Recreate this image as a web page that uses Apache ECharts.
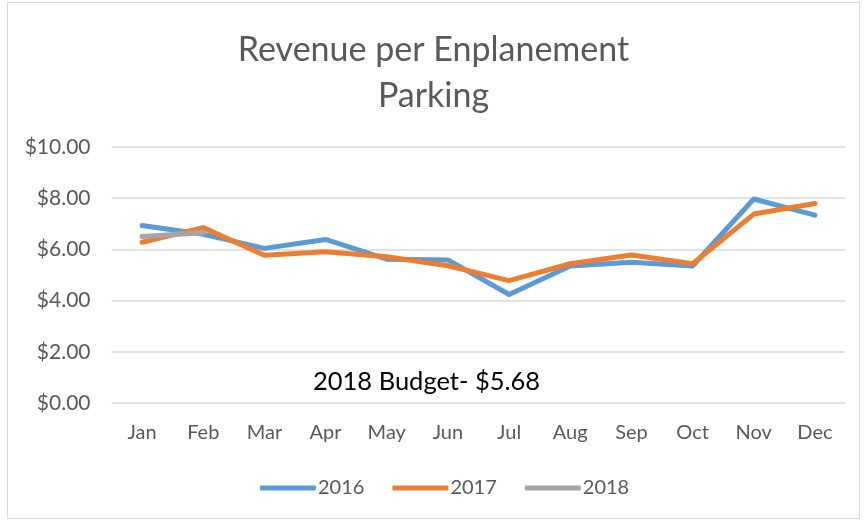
<!DOCTYPE html>
<html>
<head>
<meta charset="utf-8">
<script src="https://cdn.jsdelivr.net/npm/echarts@6/dist/echarts.min.js"></script>
<style>
  html, body { margin: 0; padding: 0; background: #fff; }
  #frame {
    position: absolute; left: 7px; top: 2px; width: 853px; height: 517px;
    border: 1px solid #d9d9d9; box-sizing: border-box;
  }
  #chart { position: absolute; left: 0; top: 0; width: 867px; height: 525px; }
</style>
</head>
<body>
<div id="frame"></div>
<div id="chart"></div>
<script>
var months = ['Jan', 'Feb', 'Mar', 'Apr', 'May', 'Jun', 'Jul', 'Aug', 'Sep', 'Oct', 'Nov', 'Dec'];
var rev2016 = [6.93, 6.59, 6.04, 6.39, 5.62, 5.59, 4.24, 5.35, 5.50, 5.35, 7.97, 7.34];
var rev2017 = [6.28, 6.85, 5.77, 5.91, 5.71, 5.36, 4.78, 5.44, 5.78, 5.44, 7.38, 7.79];
var rev2018 = [6.50, 6.65];
var budgetText = '2018 Budget- $5.68';

var font = 'Lato, "Open Sans", sans-serif';

var chart = echarts.init(document.getElementById('chart'));

function lineSeries (name, data, color) {
  return {
    name: name,
    type: 'line',
    data: data,
    symbol: 'none',
    color: color,
    lineStyle: { width: 5, color: color, cap: 'round', join: 'round' }
  };
}

chart.setOption({
  animation: false,
  title: {
    text: 'Revenue per Enplanement\nParking',
    left: 'center',
    top: 22,
    textStyle: {
      fontFamily: font,
      fontWeight: 'normal',
      fontSize: 34,
      lineHeight: 46,
      color: '#595959'
    }
  },
  grid: { left: 111.5, right: 21.5, top: 147, bottom: 122 },
  xAxis: {
    type: 'category',
    data: months,
    boundaryGap: true,
    axisLine: { show: false },
    axisTick: { show: false },
    axisLabel: { color: '#595959', fontSize: 20, fontFamily: font, margin: 20 }
  },
  yAxis: {
    type: 'value',
    min: 0,
    max: 10,
    interval: 2,
    axisLine: { show: false },
    axisTick: { show: false },
    splitLine: { lineStyle: { color: '#d9d9d9', width: 1.5 } },
    axisLabel: {
      color: '#595959', fontSize: 21, fontFamily: font, margin: 21,
      formatter: function (v) { return '$' + v.toFixed(2); }
    }
  },
  legend: {
    bottom: 22,
    left: 255,
    icon: 'roundRect',
    itemWidth: 56,
    itemHeight: 5,
    itemGap: 28,
    textStyle: { color: '#595959', fontSize: 20, fontFamily: font, padding: [0, 0, 0, -3] },
    data: ['2016', '2017', '2018']
  },
  graphic: [{
    type: 'text',
    left: 313,
    top: 369,
    style: { text: budgetText, fontSize: 25.5, fontFamily: font, fill: '#000' }
  }],
  series: [
    lineSeries('2016', rev2016, '#5b9bd5'),
    lineSeries('2017', rev2017, '#ed7d31'),
    lineSeries('2018', rev2018, '#a5a5a5')
  ]
});
</script>
</body>
</html>
